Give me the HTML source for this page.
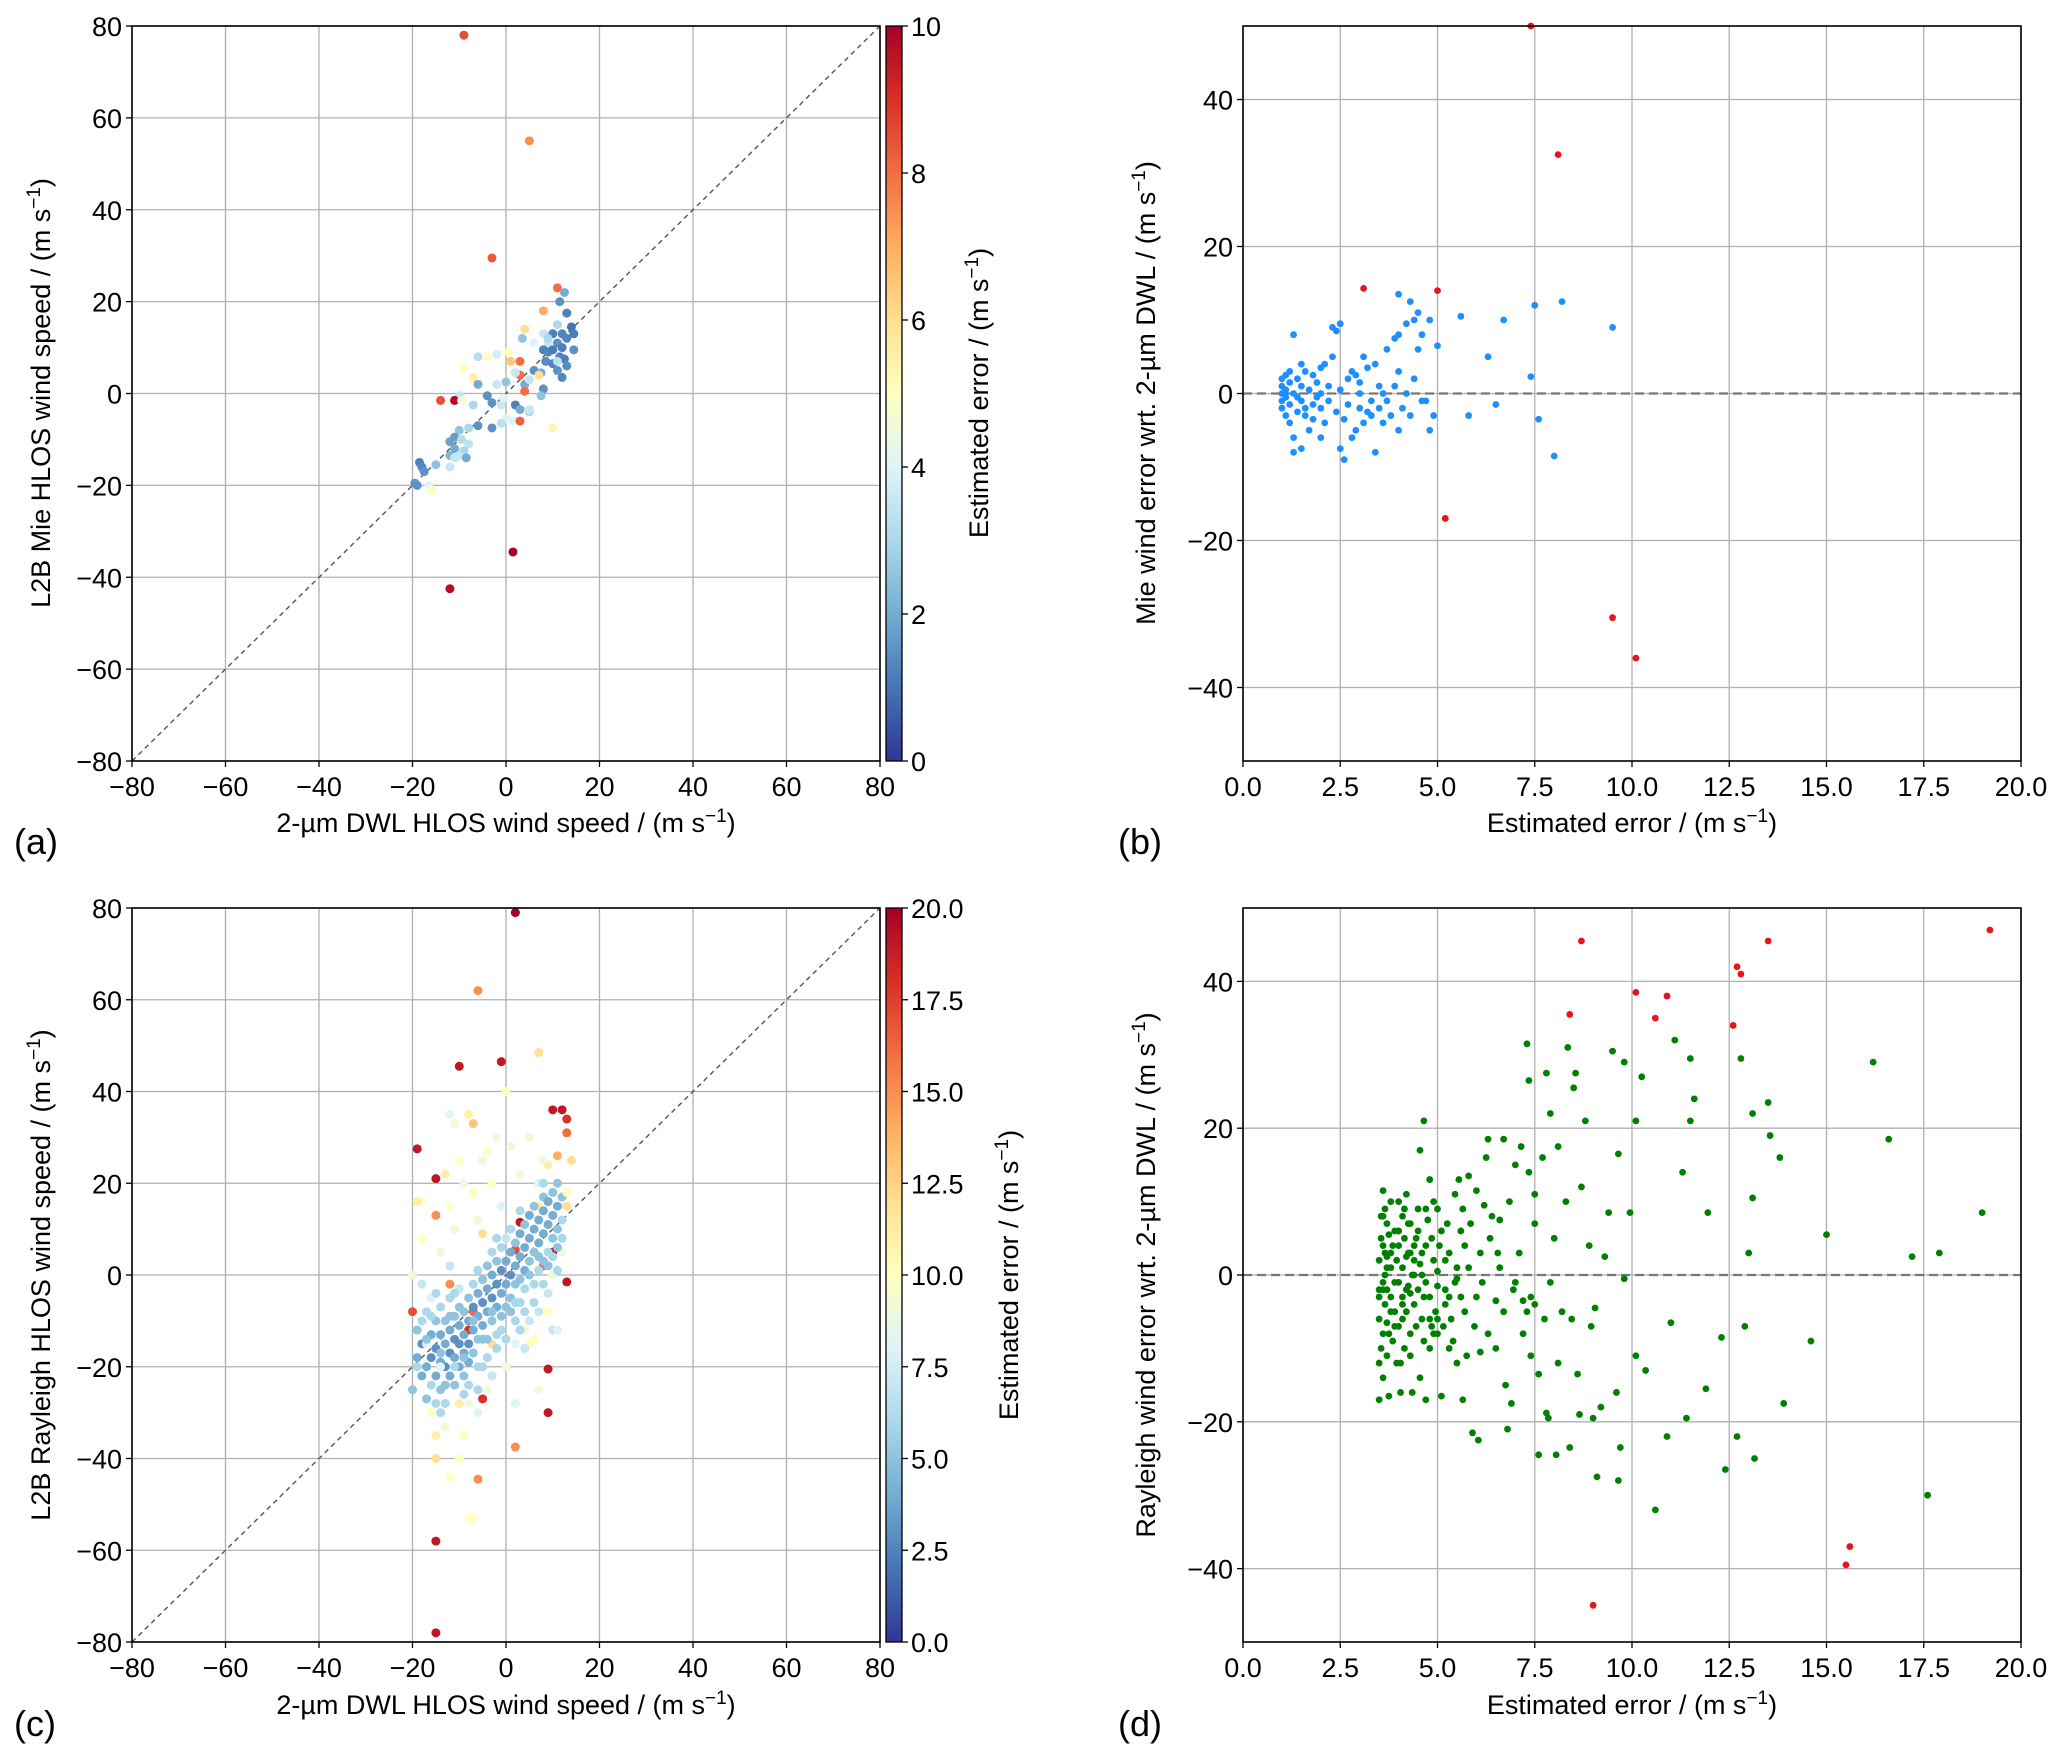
<!DOCTYPE html>
<html><head><meta charset="utf-8"><style>
html,body{margin:0;padding:0;background:#fff}
svg{display:block;font-family:"Liberation Sans","DejaVu Sans",sans-serif}
</style></head><body>
<svg id="fig" width="2067" height="1758" viewBox="0 0 2067 1758" xmlns="http://www.w3.org/2000/svg">
<defs>
<linearGradient id="rdylbu" x1="0" y1="1" x2="0" y2="0">
<stop offset="0" stop-color="#313695"/><stop offset="0.1" stop-color="#4575b4"/><stop offset="0.2" stop-color="#74add1"/><stop offset="0.3" stop-color="#abd9e9"/><stop offset="0.4" stop-color="#e0f3f8"/><stop offset="0.5" stop-color="#ffffbf"/><stop offset="0.6" stop-color="#fee090"/><stop offset="0.7" stop-color="#fdae61"/><stop offset="0.8" stop-color="#f46d43"/><stop offset="0.9" stop-color="#d73027"/><stop offset="1" stop-color="#a50026"/>
</linearGradient>
</defs>
</svg>
<script>
// ---- Panel (a) data: DWL speed, Mie speed, estimated error
const aX=[-9,5,-3,11,12.5,11.5,8,13,4,11,3.5,8,10,12,14,14.5,13,9,11,8,9,10,12,11.5,8.5,10,12.5,14.5,13,11,12,6,7.5,3,3,0.5,-2,-4,-6,-9,-7,-6,-2,0,2,4,5,7,4,8,-10,-14,-11,-4,-3,-1,2,7.5,-9.5,-7,3,5,0,1.5,3,-1,-3,10,-6,-8,-10,-11,-9.5,-12,-8,-11,-9,-10,-12,-8.5,-11,-12,-15,-18.5,-18,-17.5,-19.5,-19,-16.5,-16,1.5,-12,9,11,6,1,-0.5,5];
const aY=[78,55,29.5,23,22,20,18,17.5,14,15,12,13,13,13,14.5,13,12,11,11,9.5,9,9.5,10,8,7,6.5,7.5,9.5,6,5,3.5,5,4.5,7,4,9,8.5,8,8,5.5,3.5,2,2,2.5,4.5,2,3,4,0.5,1,-0.5,-1.5,-1.5,-0.5,-2,-2.5,-2.5,-0.5,-1.5,-2.5,-3.5,-4,-5.5,-6,-6,-6.5,-7.5,-7.5,-7,-7.5,-8,-9.5,-10,-10.5,-11,-12,-12.5,-13.5,-13.5,-14,-14,-16,-15.5,-15,-16,-17,-19.5,-20,-20,-21,-34.5,-42.5,12,7,11,7,-1,-3.5];
const aE=[8.5,7.5,8.3,8,2,1.5,7,1.2,6,3,2.5,3.5,1.2,1.3,1,1.1,1.3,3.5,1.5,1.2,1.3,1.1,1.2,1.3,1.4,1.3,1.2,1.5,1.4,1.5,1.3,1.5,2,8,8,5,3.8,5,3.2,5,5.5,2,3.5,2.5,3.5,2,3.5,6,8,1.5,3.5,8.5,9.8,1.5,1.5,3.5,1.2,2.5,4.5,3,2,3,4,4,8.2,3.3,1.5,5.3,1.5,3,2.5,1.7,3.2,1.8,3.4,2,3,3.5,2.2,2,3.5,3.5,2.5,1.2,1.3,1.5,1.6,1.5,4,5,9.9,9.7,3,3.3,4,6.5,4,3.5];
// ---- Panel (b) data: estimated error, Mie error wrt DWL
const bE=[1,1,1,1,1,1.1,1.1,1.1,1.2,1.2,1.2,1.2,1.3,1.3,1.3,1.3,1.4,1.4,1.5,1.5,1.5,1.5,1.6,1.6,1.7,1.7,1.8,1.8,1.9,1.9,2,2,2,2,2.1,2.2,2.2,2.3,2.3,2.4,2.4,2.5,2.5,2.5,2.6,2.6,2.7,2.7,2.8,2.8,2.9,3,3,3,3.1,3.1,3.2,3.3,3.3,3.4,3.4,3.5,3.5,3.6,3.6,3.7,3.7,3.8,3.9,4,4,4,4,4.1,4.2,4.2,4.3,4.3,4.4,4.5,4.5,4.6,4.7,4.8,4.8,4.9,5,5.6,5.8,6.3,6.5,6.7,7.4,7.5,7.6,8,8.2,9.5,1.1,1.4,1.8,2.1,3.2,4.6,1.6,2.9,3.9,4.4];
const bD=[0,1,-1,-2,2,-3,0.5,-0.5,1.5,-1.5,3,-4,8,0,-6,-8,2,-2.5,4,-1,1,-7.5,3,-3,0.5,-5,2.5,-1.5,-0.5,1.5,-2,0,3.5,-6,-4,1,-1,5,9,-2.5,8.5,9.5,0.5,-7.5,-3.5,-9,2,-1.5,-6,3,-5,0,-2,1.5,5,-4,3.5,-1,-3,4,-8,-2,1,0,-4,6,-1,-3,1,8,13.5,3,-5,-2,9.5,0,12.5,-3,2,11,6,8,-1,-5,10,-3,6.5,10.5,-3,5,-1.5,10,2.3,12,-3.5,-8.5,12.5,9,2.5,-0.5,-3.5,4,-2.5,-1,-2,2.5,7.5,10];
const bRedE=[7.4,8.1,3.1,5,5.2,9.5,10.1];
const bRedD=[50,32.5,14.3,14,-17,-30.5,-36];
// ---- Panel (c) data: DWL speed, Rayleigh speed, estimated error
const cX=[2,-6,-10,-1,7,-19,-15,-15,-7,10,12,13,13,11,9,3,2,10,8,13,-8,-5,9,9,2,-6,-15,-12,-15,-15,-8,-20,-12,-7,-5,-10,-13,14,-4,-12,-9,-18,-3,5,7,
-20,-19,-19,-18,-18,-17,-17,-17,-16,-16,-16,-15,-15,-15,-14,-14,-14,-14,-13,-13,-13,-13,-12,-12,-12,-12,-11,-11,-11,-11,-10,-10,-10,-10,-9,-9,-9,-9,-8,-8,-8,-8,-7,-7,-7,-7,-6,-6,-6,-6,-5,-5,-5,-5,-4,-4,-4,-4,-3,-3,-3,-3,-2,-2,-2,-2,-1,-1,-1,-1,0,0,0,0,1,1,1,1,2,2,2,2,3,3,3,3,4,4,4,4,5,5,5,5,6,6,6,6,7,7,7,7,8,8,8,8,9,9,9,9,10,10,10,10,11,11,11,12,12,-18,-15,-9,-3,4,-12,
-19,-18,-17,-16,-15,-14,-13,-12,-11,-10,-9,-8,-7,-6,-5,-4,-3,-2,-1,0,1,2,3,4,5,6,7,8,9,10,11,12,13,-20,-16,-8,-10,-7,2,0,-11,-14,-6,7,13,
-19,-18,-17,-16,-15,-14,-13,-12,-11,-10,-9,-8,-7,-6,-5,-4,-3,-2,-1,0,1,2,3,4,5,6,7,8,9,10,11,12,-16,-11,-6,-2,3,8,11,-14];
const cY=[79,62,45.5,46.5,48.5,27.5,21,13,33,36,36,34,31,26,24,11.5,5.5,5,2,-1.5,-12,-27,-20.5,-30,-37.5,-44.5,-40,-44,-58,-78,-53,-8,-2,-8,9,-28,-33,25,27,35,20,16,-15,-15,15,
-25,-18,-12,-22,-15,-8,-20,-27,-13,-18,-5,-22,-10,-16,-25,-19,-13,-7,-20,-15,-10,-28,-17,-22,-12,-5,-18,-14,-9,-24,-20,-15,-11,-3,-17,-13,-8,-22,-15,-10,-5,-19,-12,-7,-2,-17,-14,-9,-4,1,-11,-6,-1,-20,-8,-3,2,-14,-5,0,-10,5,-7,-2,3,-13,-4,1,6,-9,-2,3,-7,8,0,5,-5,10,2,-2,7,-10,4,-1,9,-6,6,1,11,-3,8,3,13,-10,10,5,-2,15,12,7,1,-8,14,9,3,17,11,16,5,-4,13,18,8,-12,15,10,20,17,12,-2,-28,-26,-22,-16,2,
16,8,-15,-30,-35,5,22,15,10,25,-35,35,18,12,25,-25,20,30,15,-20,28,-15,22,-12,30,-14,20,25,-8,0,-12,5,18,0,-5,-28,-40,-53,-28,40,33,-20,-30,-25,15,
-20,-10,-14,-24,-4,-17,-24,-9,-20,-7,-18,-24,-10,-20,-14,-18,-8,-16,-12,-14,-8,-6,-12,-8,0,-6,4,-2,2,4,6,8,-9,-4,-25,8,14,20,1,-30];
const cE=[20,15,19,19,12,19,19,15,13,19,19,18,16,14,11,19,17,19,16,19,18,18,19,19,15,15,12,10,19,19,10,17,15,16,12,11,9,12,10,8,9,10,12,10,11,
5,4,5,4,3,6,4,5,4,3,7,4,5,3,5,4,4,6,3,4,5,6,3,4,4,6,4,3,5,5,4,3,4,7,4,4,5,5,3,4,5,4,4,3,6,5,5,4,4,6,4,3,5,6,4,4,5,5,3,4,5,6,4,3,5,6,4,3,6,5,4,4,5,7,3,4,5,6,4,5,5,6,4,5,4,6,4,4,5,6,4,5,4,7,4,5,6,5,4,4,6,7,4,4,5,5,4,4,6,7,4,5,5,7,4,5,5,5,6,7,6,6,7,7,7,
11,10,8,10,11,9,11,10,9,10,10,11,10,9,9,9,10,9,8,9,9,8,9,9,9,10,8,9,10,9,8,9,10,9,8,9,10,10,8,10,9,8,8,9,12,
6,6,5,6,6,5,5,5,6,5,5,6,5,6,5,6,5,6,6,6,5,6,6,6,5,6,5,6,5,6,5,6,6,6,6,6,6,6,6,6];
// ---- Panel (d) data: estimated error, Rayleigh error wrt DWL
const dE=[3.5,3.5,3.5,3.5,3.55,3.55,3.6,3.6,3.6,3.6,3.6,3.65,3.65,3.7,3.7,3.7,3.7,3.75,3.75,3.8,3.8,3.8,3.85,3.9,3.9,3.95,3.95,
4,4,4,4,4.05,4.1,4.1,4.1,4.15,4.15,4.2,4.2,4.2,4.25,4.3,4.3,4.3,4.35,4.4,4.4,4.45,4.5,4.5,4.55,4.55,4.55,
4.6,4.65,4.65,4.7,4.7,4.7,4.75,4.8,4.8,4.85,4.9,4.9,4.95,5,5,5,
5.1,5.1,5.2,5.2,5.3,5.3,5.35,5.4,5.45,5.5,5.5,5.55,5.6,5.65,5.65,5.7,5.75,5.8,5.85,5.9,5.95,6,6.05,6.1,
6.15,6.2,6.25,6.3,6.35,6.4,6.5,6.5,6.55,6.6,6.7,6.7,6.75,6.8,6.85,6.9,6.95,7,7.1,7.15,7.2,7.3,7.35,7.35,7.4,7.4,7.5,7.5,7.6,7.6,7.7,7.75,7.8,7.85,7.9,7.9,8,8.05,8.1,8.1,8.2,8.3,8.35,8.4,8.45,8.5,8.55,8.6,8.65,8.7,8.8,8.9,8.95,9,9.05,9.1,9.2,9.3,9.4,9.5,9.6,9.65,9.65,9.7,9.8,9.8,9.95,10.1,10.1,10.25,10.35,10.6,10.9,11,11.1,11.3,11.4,11.5,11.5,11.6,11.9,11.95,12.3,12.4,12.7,12.8,12.9,13,13.1,13.1,13.15,13.5,13.55,13.8,13.9,14.6,15,16.2,16.6,17.2,17.6,17.9,19,
7.2,7.3,7.8,6.1,5.5,4.25,3.9,4.6,3.6,3.7,4.1,4.4,4.8,5.2,3.8,4.0,4.3,5.0,3.5,3.65,
3.5,3.55,3.6,3.65,3.7,3.75,3.8,3.85,3.9,4,4.05,4.1,4.15,4.2,4.25,4.3,4.35,4.4,4.45,4.5,4.6,4.65,4.7,4.8,4.85,4.9,5,5.05,5.15,5.25,5.3,5.45,5.6,5.7,5.8,6,6.3,6.6,7,7.5];
const dD=[-17,-3,2,-6,5,-10,11.5,8,-1,4,-8,0,-4,7,-2,2.5,-6.5,5.5,-16.5,3,-3,1,-9,6,-5,-12,2,
10,-1,4,-7,-16,8,1,-3,5,-10,11,-5,2.5,-1.5,7,-8,3,-16,0,-4,5,9,-2,17,-14,1.5,
-6,21,-9,-17,4,-1,7.5,13,-3,-7,10,2,-5,9,-1.5,0.5,
-16.5,6,2,-4,-10,3,-6,-9,11,-12,1,13,-3,-17,9,4,-11,13.5,7,-21.5,-7,11.5,-22.5,3,
-1,9.5,16,18.5,5,8,-3.5,-10,3,7.5,18.5,-5,-15,-21,10,-17.5,-2,15,3,17.5,-8,31.5,26.5,14,-11,-3,11,7,-13.5,-24.5,16,-6,27.5,-19.5,22,-1,5,-24.5,17.5,-12,-5,10,31,-23.5,-6,25.5,27.5,-13.5,-19,12,21,4,-7,-19.5,-4.5,-27.5,-18,2.5,8.5,30.5,-16,-28,16.5,-23.5,29,-0.5,8.5,-11,21,27,-13,-32,-22,-6.5,32,14,-19.5,29.5,21,24,-15.5,8.5,-8.5,-26.5,-22,29.5,-7,3,10.5,22,-25,23.5,19,16,-17.5,-9,5.5,29,18.5,2.5,-30,3,8.5,
-3.5,-5,-18.8,-10.5,-0.5,3,-1,0,-2,1,-4,2,-6,-2,-5,6,-2.5,-8,-2,3,
-12,8,-14,9,-11,-8,10,4,-7,6,-12,-6,9,-2,7,-11,0,4,-7,6,3,-3,9,-10,5,-8,-6,4,-7,7,-3,-1,6,-5,1,-3,-8,1,-1,-4];
const dRedE=[8.7,8.4,10.1,10.6,10.9,12.6,12.7,12.8,13.5,19.2,15.5,15.6,9];
const dRedD=[45.5,35.5,38.5,35,38,34,42,41,45.5,47,-39.5,-37,-45];
// ---- tick labels
const speedTicks=[-80,-60,-40,-20,0,20,40,60,80];
const errTicks=[0,2.5,5,7.5,10,12.5,15,17.5,20];
const diffTicks=[-40,-20,0,20,40];
const cbTicksA=[0,2,4,6,8,10];
const cbTicksC=[0,2.5,5,7.5,10,12.5,15,17.5,20];

const NS="http://www.w3.org/2000/svg";
const svg=document.getElementById('fig');
function mk(tag,attrs,parent){const e=document.createElementNS(NS,tag);for(const k in attrs)e.setAttribute(k,attrs[k]);(parent||svg).appendChild(e);return e;}
const stops=[[0,[49,54,149]],[0.1,[69,117,180]],[0.2,[116,173,209]],[0.3,[171,217,233]],[0.4,[224,243,248]],[0.5,[255,255,191]],[0.6,[254,224,144]],[0.7,[253,174,97]],[0.8,[244,109,67]],[0.9,[215,48,39]],[1,[165,0,38]]];
function cmap(t){t=Math.max(0,Math.min(1,t));for(let i=1;i<stops.length;i++){if(t<=stops[i][0]){const a=stops[i-1],b=stops[i];const f=(t-a[0])/(b[0]-a[0]);const c=a[1].map((v,j)=>Math.round(v+(b[1][j]-v)*f));return `rgb(${c[0]},${c[1]},${c[2]})`;}}return 'rgb(165,0,38)';}
function fmt(v,dec){const s=dec?v.toFixed(1):String(v);return s.replace('-','\u2212');}
const FS=27;

function panel(name,L,T,R,B,xmin,xmax,ymin,ymax,xt,yt,dec){
  const g=mk('g',{});
  
  
  const sx=v=>L+(v-xmin)/(xmax-xmin)*(R-L);
  const sy=v=>B-(v-ymin)/(ymax-ymin)*(B-T);
  xt.forEach(v=>{const x=sx(v);
    const gl=mk('line',{x1:x,x2:x,y1:T,y2:B,stroke:'#b0b0b0','stroke-width':1.3},g);
    
    
    mk('line',{x1:x,x2:x,y1:B,y2:B+6,stroke:'#000','stroke-width':1.3},g);
    const t=mk('text',{x:x,y:B+35,'text-anchor':'middle','font-size':FS},g);t.textContent=fmt(v,dec);
    
    
  });
  yt.forEach(v=>{const y=sy(v);
    const gl=mk('line',{x1:L,x2:R,y1:y,y2:y,stroke:'#b0b0b0','stroke-width':1.3},g);
    
    
    mk('line',{x1:L-6,x2:L,y1:y,y2:y,stroke:'#000','stroke-width':1.3},g);
    const t=mk('text',{x:L-10,y:y+10,'text-anchor':'end','font-size':FS},g);t.textContent=fmt(v,false);
    
    
  });
  return {g,sx,sy,frame:()=>{const f=mk('rect',{x:L,y:T,width:R-L,height:B-T,fill:'none',stroke:'#000','stroke-width':1.6},g);
    
    }};
}
function dot(p,x,y,fill,r,nm){const c=mk('circle',{cx:p.sx(x),cy:p.sy(y),r:r,fill:fill},p.g);
  
  }
function label(txt,x,y,rot,name,sup){
  const t=mk('text',{x:x,y:y,'text-anchor':'middle','font-size':FS,transform:rot?`rotate(-90 ${x} ${y})`:''});
  
  
  t.appendChild(document.createTextNode(txt));
  const s=mk('tspan',{dy:-10,'font-size':19},t);s.textContent='\u22121';
  const e=mk('tspan',{dy:10},t);e.textContent=')';
}
function plabel(txt,x,y,name){const t=mk('text',{x:x,y:y,'font-size':36});t.textContent=txt;
  
  }
function colorbar(L,T,R,B,max,ticks,dec,name){
  const r=mk('rect',{x:L,y:T,width:R-L,height:B-T,fill:'url(#rdylbu)',stroke:'#000','stroke-width':1.3});
  
  
  ticks.forEach(v=>{const y=B-v/max*(B-T);
    mk('line',{x1:R,x2:R+6,y1:y,y2:y,stroke:'#000','stroke-width':1.3});
    const t=mk('text',{x:R+9,y:y+10,'font-size':FS});t.textContent=dec?v.toFixed(1):String(v);
    
    });
}

// Panel a
let pa=panel('panel-a-scatter',132,26,880,761,-80,80,-80,80,speedTicks,speedTicks,false);
let dl=mk('line',{x1:pa.sx(-80),y1:pa.sy(-80),x2:pa.sx(80),y2:pa.sy(80),stroke:'#555','stroke-width':1.4,'stroke-dasharray':'5,4'},pa.g);


aX.forEach((x,i)=>dot(pa,x,aY[i],cmap(aE[i]/10),4.5,'mie-point'));
pa.frame();
colorbar(886,26,902,761,10,cbTicksA,false,'colorbar-a');
label('2-\u00b5m DWL HLOS wind speed / (m s',506,832,false,'x-axis-title-a');
label('L2B Mie HLOS wind speed / (m s',50,393,true,'y-axis-title-a');
label('Estimated error / (m s',988,393,true,'colorbar-title-a');
plabel('(a)',14,854,'panel-label-a');

// Panel b
let pb=panel('panel-b-scatter',1243,26,2021,761,0,20,-50,50,errTicks,diffTicks,true);
let zb=mk('line',{x1:1243,x2:2021,y1:pb.sy(0),y2:pb.sy(0),stroke:'#777','stroke-width':2.2,'stroke-dasharray':'9,5'},pb.g);


bE.forEach((e,i)=>dot(pb,e,bD[i],'#1e8fff',3.4,'mie-error-point'));
bRedE.forEach((e,i)=>dot(pb,e,bRedD[i],'#e8141c',3.4,'mie-outlier-point'));
pb.frame();
label('Estimated error / (m s',1632,832,false,'x-axis-title-b');
label('Mie wind error wrt. 2-\u00b5m DWL / (m s',1155,393,true,'y-axis-title-b');
plabel('(b)',1118,854,'panel-label-b');

// Panel c
let pc=panel('panel-c-scatter',132,908,880,1642,-80,80,-80,80,speedTicks,speedTicks,false);
let dl2=mk('line',{x1:pc.sx(-80),y1:pc.sy(-80),x2:pc.sx(80),y2:pc.sy(80),stroke:'#555','stroke-width':1.4,'stroke-dasharray':'5,4'},pc.g);


cX.forEach((x,i)=>dot(pc,x,cY[i],cmap(cE[i]/20),4.5,'rayleigh-point'));
pc.frame();
colorbar(886,908,902,1642,20,cbTicksC,true,'colorbar-c');
label('2-\u00b5m DWL HLOS wind speed / (m s',506,1714,false,'x-axis-title-c');
label('L2B Rayleigh HLOS wind speed / (m s',50,1275,true,'y-axis-title-c');
label('Estimated error / (m s',1018,1275,true,'colorbar-title-c');
plabel('(c)',14,1736,'panel-label-c');

// Panel d
let pd=panel('panel-d-scatter',1243,908,2021,1642,0,20,-50,50,errTicks,diffTicks,true);
let zd=mk('line',{x1:1243,x2:2021,y1:pd.sy(0),y2:pd.sy(0),stroke:'#777','stroke-width':2.2,'stroke-dasharray':'9,5'},pd.g);


dE.forEach((e,i)=>dot(pd,e,dD[i],'#008000',3.4,'rayleigh-error-point'));
dRedE.forEach((e,i)=>dot(pd,e,dRedD[i],'#e8141c',3.4,'rayleigh-outlier-point'));
pd.frame();
label('Estimated error / (m s',1632,1714,false,'x-axis-title-d');
label('Rayleigh wind error wrt. 2-\u00b5m DWL / (m s',1155,1275,true,'y-axis-title-d');
plabel('(d)',1118,1736,'panel-label-d');
</script>
</body></html>
